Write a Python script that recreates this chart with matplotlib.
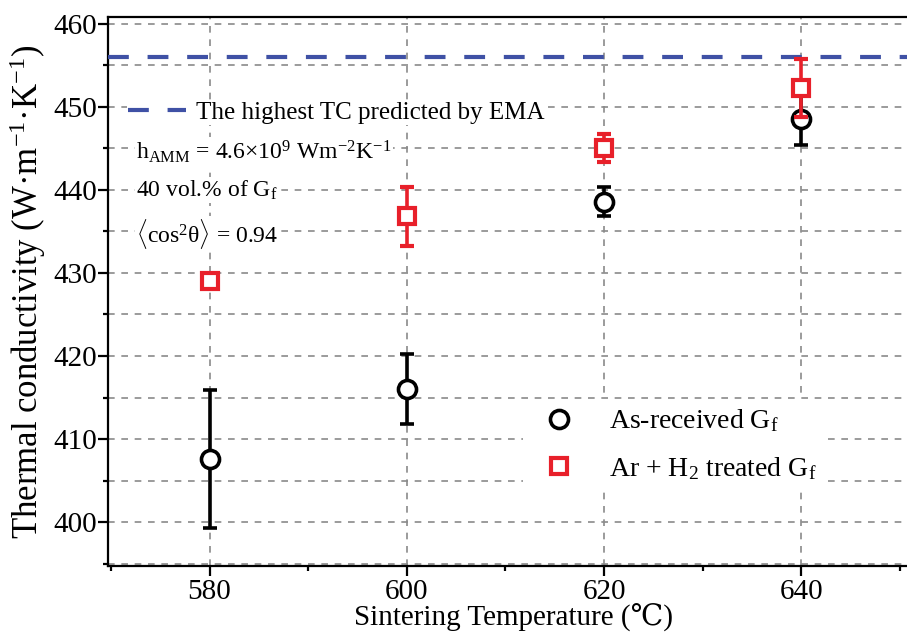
import matplotlib
matplotlib.use("Agg")
import matplotlib.pyplot as plt
from matplotlib.lines import Line2D
from matplotlib.ticker import MultipleLocator

temps = [580, 600, 620, 640]
asrec = [407.6, 416.0, 438.6, 448.5]
asrec_err = [8.3, 4.2, 1.7, 3.1]
treated = [429.0, 436.8, 445.0, 452.3]
treated_err = [0.6, 3.5, 1.7, 3.5]
ema_tc = 456.0

plt.rcParams['font.family'] = ['Liberation Serif', 'DejaVu Serif', 'DejaVu Sans']
plt.rcParams['mathtext.fontset'] = 'custom'
plt.rcParams['mathtext.rm'] = 'Liberation Serif'
plt.rcParams['mathtext.it'] = 'Liberation Serif:italic'
plt.rcParams['mathtext.bf'] = 'Liberation Serif:bold'

fig = plt.figure(figsize=(9.07, 6.34), dpi=100)
ax = fig.add_axes([0.119, 0.107, 0.895, 0.866])

ax.set_xlim(569.7, 652)
ax.set_ylim(394.7, 460.8)

blue = '#3F51A5'
ax.axhline(ema_tc, color=blue, lw=3, dashes=(5, 4.5), zorder=3)

red = '#E8202A'
ax.errorbar(temps, asrec, yerr=asrec_err, fmt='o', color='black', mfc='white',
            mec='black', ms=13, mew=2.6, elinewidth=2.6, capsize=5, capthick=2.6, zorder=4)
ax.errorbar(temps, treated, yerr=treated_err, fmt='s', color=red, mfc='white',
            mec=red, ms=12, mew=3, elinewidth=2.6, capsize=5, capthick=2.6, zorder=5)

ax.xaxis.set_major_locator(MultipleLocator(20))
ax.xaxis.set_minor_locator(MultipleLocator(10))
ax.yaxis.set_major_locator(MultipleLocator(10))
ax.yaxis.set_minor_locator(MultipleLocator(5))
ax.grid(True, which='major', axis='x', color='#8a8a8a', ls=(0, (4, 4)), lw=1.2)
ax.grid(True, which='both', axis='y', color='#8a8a8a', ls=(0, (4, 4)), lw=1.2)
ax.set_axisbelow(True)

for s in ['left', 'bottom', 'top']:
    ax.spines[s].set_linewidth(1.6)
ax.spines['right'].set_visible(False)
ax.tick_params(which='major', direction='out', length=7, width=1.6, labelsize=21)
ax.tick_params(which='minor', direction='out', length=3.5, width=1.6)
ax.tick_params(axis='x', which='major', pad=2)
ax.tick_params(axis='y', which='major', pad=1)

ax.set_xlabel('Sintering Temperature (℃)', fontsize=21, labelpad=-1)
ax.set_ylabel('Thermal conductivity (W·m$^{-1}$·K$^{-1}$)', fontsize=25, labelpad=4)

leg1 = ax.legend(handles=[Line2D([], [], color=blue, lw=3, dashes=(5, 4.5))],
                 labels=['The highest TC predicted by EMA'], loc='upper left',
                 bbox_to_anchor=(0.0235, 0.849), frameon=True, fontsize=18,
                 handlelength=2.3, handletextpad=0.4, borderaxespad=0,
                 borderpad=0.05, fancybox=False, framealpha=1, facecolor='white',
                 edgecolor='none')
ax.add_artist(leg1)

bb = dict(facecolor='white', edgecolor='none', pad=1)
ax.text(0.035, 0.755, 'h$_{\\mathrm{AMM}}$ = 4.6×10$^{9}$ Wm$^{-2}$K$^{-1}$',
        transform=ax.transAxes, fontsize=17, va='center', bbox=bb)
ax.text(0.035, 0.685, '40 vol.% of G$_{\\mathrm{f}}$',
        transform=ax.transAxes, fontsize=17, va='center', bbox=bb)
ax.text(0.035, 0.605, '$\\langle$cos$^{2}$θ$\\rangle$ = 0.94',
        transform=ax.transAxes, fontsize=17, va='center', bbox=bb)

h1 = Line2D([], [], marker='o', ls='none', mfc='white', mec='black', ms=13, mew=2.6)
h2 = Line2D([], [], marker='s', ls='none', mfc='white', mec=red, ms=12, mew=3)
ax.legend(handles=[h1, h2], labels=['As-received G$_{\\mathrm{f}}$', 'Ar + H$_{2}$ treated G$_{\\mathrm{f}}$'],
          loc='upper left', bbox_to_anchor=(0.511, 0.304), frameon=True, fontsize=20,
          handletextpad=0.8, labelspacing=0.75, borderaxespad=0, borderpad=0.3,
          fancybox=False, framealpha=1, facecolor='white', edgecolor='none')

fig.savefig('out.png', dpi=100)
